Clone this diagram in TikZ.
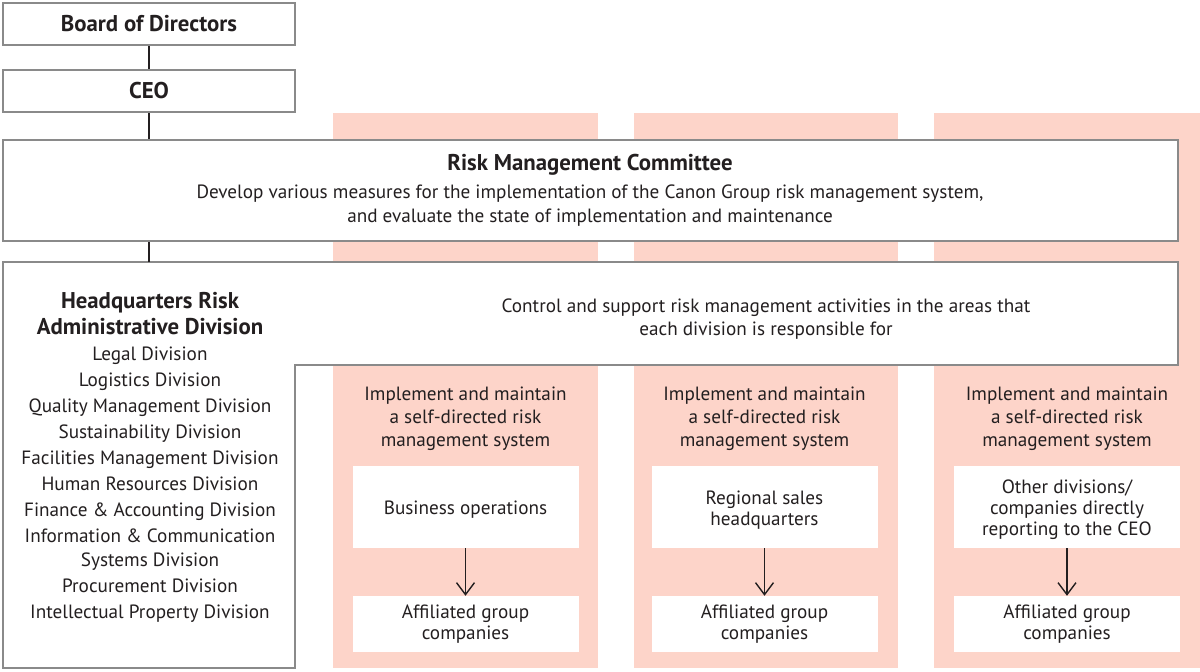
\documentclass[tikz,border=0pt]{standalone}
\usepackage{fontspec}
\setmainfont{PT Sans}
\usetikzlibrary{positioning,arrows.meta}
\definecolor{boxgray}{HTML}{8A8A8A}
\definecolor{riskpink}{HTML}{FDD4C9}
\definecolor{inkdark}{HTML}{231F20}
\tikzset{
  orgbox/.style={draw=boxgray,line width=2pt,fill=white,inner sep=0pt,
    text=inkdark,font=\bfseries\fontsize{22.8}{26}\selectfont},
  bodytext/.style={text=inkdark,align=center,inner sep=0pt,
    font=\fontsize{19.2}{22.8}\selectfont},
  unitbox/.style={fill=white,inner sep=0pt,minimum width=226pt,
    text=inkdark,align=center,font=\fontsize{19.2}{21}\selectfont},
  link/.style={inkdark,line width=1.6pt}
}
\begin{document}
\begin{tikzpicture}[x=1pt,y=-1pt]
\useasboundingbox (0,0) rectangle (1200,672);
% pink columns
\foreach \lx/\rx in {333/598,634/898,934/1200}
  \fill[riskpink] (\lx,113) rectangle (\rx,668);
% top of the chart
\node[orgbox,minimum width=292pt,minimum height=42pt] (board) at (149,24) {\raisebox{-1.5pt}{Board of Directors}};
\node[orgbox,minimum width=292pt,minimum height=42pt] (ceo) at (149,91) {\raisebox{-1.5pt}{CEO}};
\node[orgbox,minimum width=1175pt,minimum height=101pt] (rmc) at (590.5,190.5) {};
\node[text=inkdark,inner sep=0pt,font=\bfseries\fontsize{22.8}{26}\selectfont] (rmctitle) at (590,165) {Risk Management Committee};
\node[bodytext,font=\fontsize{19.2}{24}\selectfont] (rmctext) at (590,206) {Develop various measures for the implementation of the Canon Group risk management system,\\
and evaluate the state of implementation and maintenance};
% headquarters box (L shape)
\draw[boxgray,line width=2pt,fill=white] (3,262) -- (1178,262) -- (1178,365) -- (295,365) -- (295,668) -- (3,668) -- cycle;
\coordinate (hqtop) at (149,262);
\node[text=inkdark,align=center,inner sep=0pt,font=\bfseries\fontsize{22.8}{26}\selectfont] (hqtitle) at (150,314) {Headquarters Risk\\ Administrative Division};
\node[bodytext,font=\fontsize{19.2}{26}\selectfont] (hqlist) at (150,485) {Legal Division\\ Logistics Division\\ Quality Management Division\\ Sustainability Division\\ Facilities Management Division\\ Human Resources Division\\ Finance \& Accounting Division\\ Information \& Communication\\[-2pt] Systems Division\\ Procurement Division\\ Intellectual Property Division};
\node[bodytext] (control) at (766,319) {Control and support risk management activities in the areas that\\ each division is responsible for};
% connectors
\draw[link] (board.south) -- (ceo.north);
\draw[link] (ceo.south) -- (ceo.south |- rmc.north);
\draw[link] (rmc.south -| ceo) -- (hqtop);
% business units
\foreach \cx/\i/\unit in {465.5/1/{Business operations},764.5/2/{Regional sales\\ headquarters},1067/3/{Other divisions/\\ companies directly\\ reporting to the CEO}}{
  \node[bodytext] (impl\i) at (\cx,419) {Implement and maintain\\ a self-directed risk\\ management system};
  \node[unitbox,minimum height=82pt] (bu\i) at (\cx,507) {};
  \node[bodytext,font=\fontsize{19.2}{21}\selectfont] (butext\i) at (\cx,510) {\unit};
  \node[unitbox,minimum height=56pt] (aff\i) at (\cx,624) {Affiliated group\\ companies};
  \draw[inkdark,line width=1.4pt,-{Straight Barb[length=12pt,width=18pt,line width=1.4pt]}] (bu\i.south) -- (aff\i.north);
}
\end{tikzpicture}
\end{document}
